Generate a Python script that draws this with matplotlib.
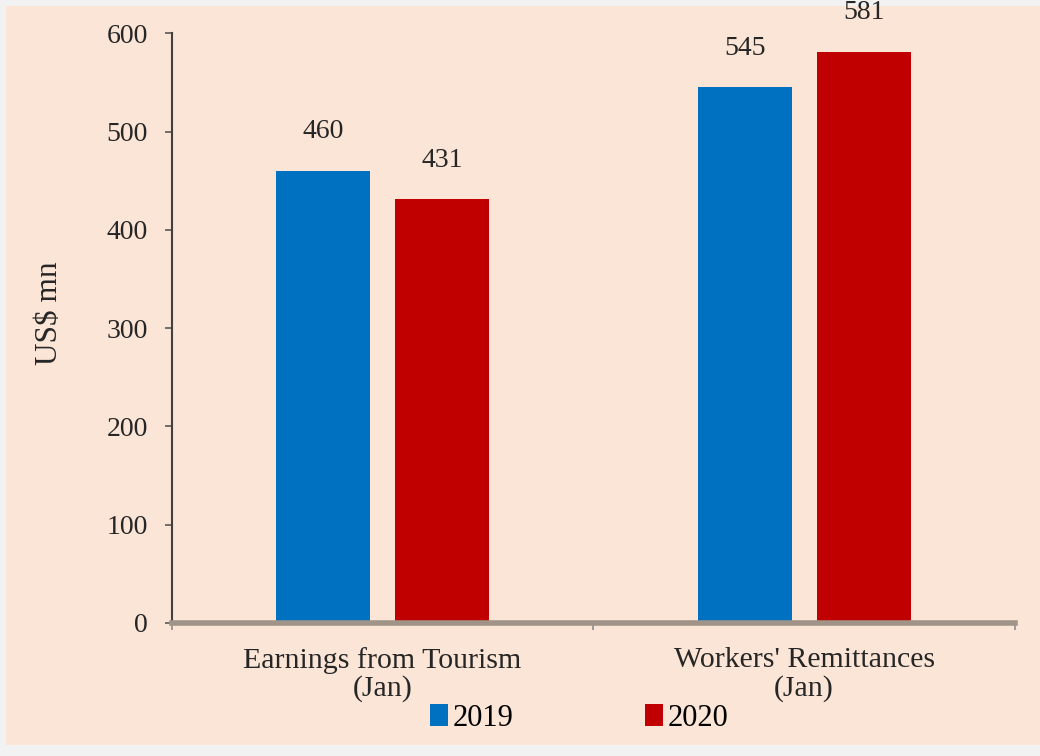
import numpy as np
from matplotlib import pyplot as plt
from matplotlib.patches import Rectangle

categories = ['Earnings from Tourism', "Workers' Remittances"]
cat_sub = ['(Jan)', '(Jan)']
years = ['2019', '2020']
vals_2019 = [460, 545]
vals_2020 = [431, 581]
colors = ['#0070C0', '#C00000']

plt.rcParams['font.family'] = ['Liberation Serif', 'DejaVu Serif']

fig = plt.figure(figsize=(10.4, 7.56), dpi=100)
fig.patch.set_facecolor('#F2F2F2')
fig.patches.append(Rectangle((0.006, 0.015), 0.994, 0.977, transform=fig.transFigure,
                             facecolor='#FBE5D6', edgecolor='none', zorder=-10))

ax = fig.add_axes([0.165, 0.176, 0.811, 0.78])
ax.set_facecolor('none')

x = np.arange(len(categories))
w = 0.223
off = 0.141
b1 = ax.bar(x - off, vals_2019, w, color=colors[0], label=years[0])
b2 = ax.bar(x + off, vals_2020, w, color=colors[1], label=years[1])

for bars in (b1, b2):
    for b in bars:
        ax.text(b.get_x() + b.get_width() / 2, b.get_height() + 27, f'{int(b.get_height())}',
                ha='center', va='bottom', fontsize=20, color='#262626')

ax.set_xlim(-0.5, 1.5)
ax.set_ylim(0, 600)
ax.set_yticks(range(0, 601, 100))
ax.tick_params(axis='y', labelsize=20, colors='#595959', labelcolor='#262626', length=5, width=1.2, pad=12)

ax.set_xticks([-0.5, 0.5, 1.5])
ax.set_xticklabels([])
ax.tick_params(axis='x', length=5, colors='#8C8C8C', width=1.2)
for i in range(len(categories)):
    ax.text(i, -38, categories[i], ha='center', va='center', fontsize=21.5, color='#262626')
    ax.text(i, -67, cat_sub[i], ha='center', va='center', fontsize=21.5, color='#262626')

ax.set_ylabel('US$ mn', fontsize=22.5, color='#262626')
ax.yaxis.set_label_coords(-0.127, 0.525)

for s in ['top', 'right']:
    ax.spines[s].set_visible(False)
ax.spines['left'].set_color('#404040')
ax.spines['left'].set_linewidth(1.5)
ax.spines['bottom'].set_color('#A09488')
ax.spines['bottom'].set_linewidth(4)

leg = fig.legend(loc='center', bbox_to_anchor=(0.557, 0.05), ncol=2, frameon=False,
                 fontsize=22, handlelength=0.6, handleheight=0.75, handletextpad=0.15,
                 columnspacing=4.3)

fig.savefig('out.png', dpi=100, facecolor=fig.get_facecolor())
